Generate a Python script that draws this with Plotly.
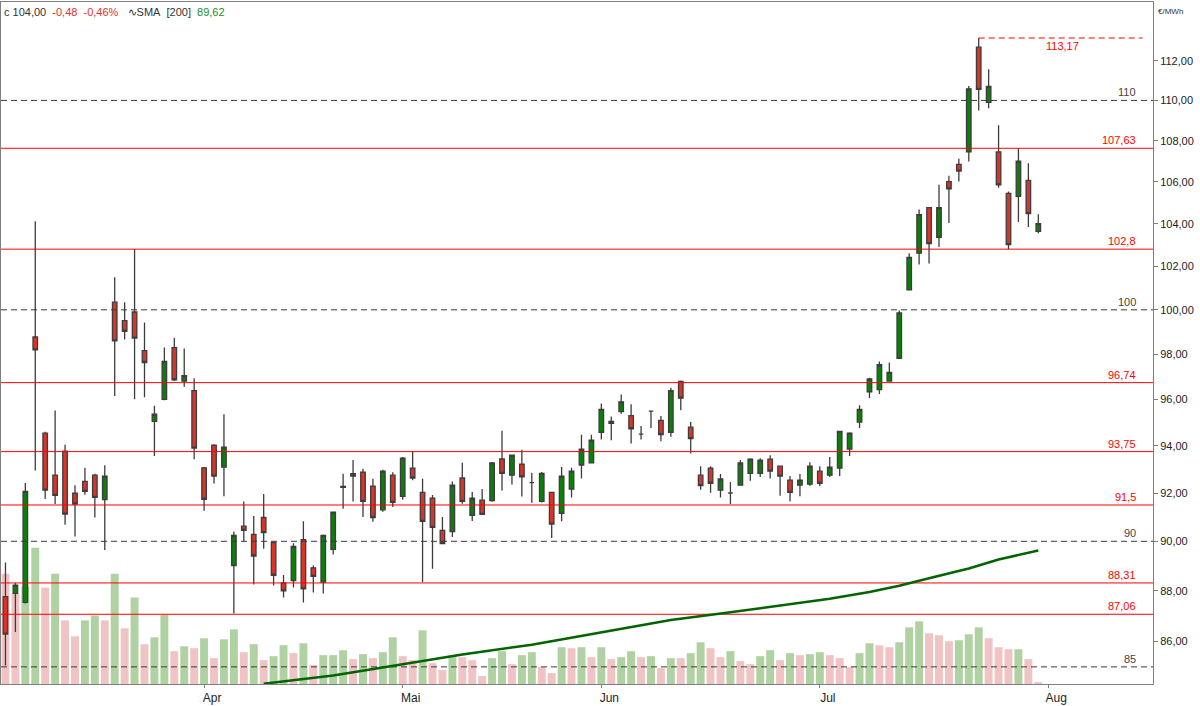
import math
import plotly.graph_objects as go

# daily candles, x = trading day index
opens = [87.76, 87.89, 87.53, 98.77, 94.54, 92.75, 93.77, 91.99, 92.49, 92.75,
         91.72, 100.35, 99.51, 99.90, 98.16, 95.05, 96.01, 98.29, 96.81, 96.39,
         93.06, 94.03, 93.09, 89.01, 90.62, 90.28, 90.98, 89.95, 88.31, 88.40,
         90.07, 88.92, 88.34, 89.67, 92.28, 92.71, 92.88, 92.29, 91.30, 92.75,
         91.86, 93.05, 92.03, 91.78, 90.45, 90.40, 92.63, 91.07, 91.70, 91.68,
         93.44, 92.75, 93.22, 92.44, 91.65, 92.03, 91.15, 92.16, 93.18, 93.27,
         94.58, 95.05, 95.47, 95.30, 94.50, 95.49, 95.09, 94.58, 96.79, 94.80,
         92.75, 93.05, 92.12, 92.00, 92.33, 92.83, 92.83, 93.43, 93.13, 92.54,
         92.33, 92.37, 92.92, 92.75, 93.05, 93.86, 95.02, 96.34, 96.43, 96.81,
         97.82, 100.91, 102.61, 104.76, 103.35, 106.01, 106.84, 107.45, 112.70, 109.90,
         107.45, 105.44, 105.30, 106.07, 103.64]
highs = [89.14, 88.31, 92.42, 104.11, 94.60, 95.52, 94.04, 92.33, 93.06, 92.81,
         93.17, 101.49, 100.35, 102.81, 99.42, 95.73, 98.30, 98.74, 98.26, 96.93,
         93.10, 94.06, 95.36, 90.40, 91.65, 91.04, 91.96, 89.99, 88.63, 89.92,
         90.83, 89.01, 90.28, 91.20, 92.81, 93.39, 93.02, 92.60, 92.98, 92.87,
         93.52, 93.76, 92.60, 91.92, 91.00, 92.48, 93.28, 92.04, 92.17, 93.31,
         94.64, 93.60, 93.83, 92.85, 92.88, 92.03, 93.10, 93.06, 94.47, 94.47,
         95.83, 95.26, 96.22, 95.79, 94.85, 95.49, 95.28, 96.52, 96.83, 95.02,
         93.13, 93.13, 92.80, 92.46, 93.39, 93.47, 93.47, 93.60, 93.13, 92.71,
         92.80, 93.30, 93.13, 93.52, 94.62, 94.58, 95.75, 96.96, 97.68, 97.63,
         99.97, 102.61, 104.67, 104.76, 105.86, 106.29, 107.12, 110.72, 113.17, 111.57,
         108.77, 105.53, 107.63, 106.90, 104.45]
lows = [85.05, 86.36, 87.49, 92.95, 91.75, 91.54, 90.68, 90.20, 91.93, 90.98,
        89.64, 96.15, 98.66, 96.01, 96.10, 93.56, 95.97, 96.81, 96.56, 93.42,
        91.26, 92.40, 91.86, 87.09, 89.99, 88.25, 89.70, 88.21, 87.73, 88.13,
        87.53, 87.93, 87.89, 89.46, 91.34, 91.65, 91.00, 90.80, 91.22, 91.42,
        91.72, 92.54, 88.34, 88.88, 89.91, 90.18, 91.55, 90.84, 91.11, 91.63,
        92.10, 92.36, 91.85, 91.59, 91.60, 90.14, 90.82, 91.81, 92.61, 93.27,
        94.27, 94.24, 95.38, 94.10, 94.27, 94.76, 94.19, 94.39, 95.53, 93.67,
        92.14, 92.01, 91.81, 91.54, 92.33, 92.52, 92.67, 92.61, 91.89, 91.65,
        91.86, 92.29, 92.29, 92.67, 92.71, 93.56, 94.76, 96.07, 96.24, 96.81,
        97.82, 100.91, 102.08, 102.13, 102.90, 104.03, 106.01, 106.99, 109.50, 109.61,
        105.71, 102.80, 104.08, 103.84, 103.55]
closes = [86.28, 88.22, 92.07, 98.19, 92.12, 91.90, 91.12, 91.54, 92.07, 91.82,
          92.71, 98.60, 99.03, 98.72, 97.63, 95.36, 97.68, 96.86, 97.05, 93.90,
          91.74, 92.71, 93.94, 90.24, 90.45, 89.40, 90.36, 88.62, 87.99, 89.79,
          88.07, 88.58, 90.24, 91.20, 92.24, 92.81, 91.65, 90.98, 92.92, 91.61,
          93.47, 92.63, 90.82, 90.57, 89.91, 92.33, 91.65, 91.78, 91.11, 93.27,
          92.83, 93.60, 92.68, 92.44, 92.83, 90.71, 92.71, 92.92, 93.86, 94.24,
          95.57, 94.96, 95.90, 94.73, 94.50, 95.49, 94.48, 96.39, 96.06, 94.31,
          92.31, 92.41, 92.59, 92.00, 93.27, 93.43, 93.39, 92.92, 92.71, 92.03,
          92.54, 93.13, 92.41, 93.09, 94.62, 94.54, 95.57, 96.90, 97.53, 97.19,
          99.86, 102.42, 104.43, 103.06, 104.76, 105.66, 106.52, 110.58, 110.55, 110.70,
          105.85, 103.01, 107.00, 104.48, 104.00]

volumes = [111, 91, 98, 137, 97, 111, 64, 48, 64, 69,
           64, 111, 56, 87, 40, 47, 70, 33, 38, 36,
           46, 26, 45, 55, 32, 40, 24, 28, 39, 31,
           41, 19, 29, 29, 34, 25, 30, 26, 32, 47,
           28, 24, 54, 21, 14, 29, 27, 24, 8, 26,
           33, 20, 29, 32, 17, 11, 37, 36, 37, 27,
           37, 25, 27, 33, 27, 28, 16, 26, 26, 31,
           42, 36, 27, 33, 23, 20, 28, 34, 24, 31,
           29, 30, 32, 29, 26, 17, 31, 41, 39, 37,
           42, 57, 63, 51, 49, 43, 44, 50, 57, 46,
           37, 35, 35, 25, 2]
volume_up = [0, 0, 1, 1, 0, 1, 0, 0, 1, 1,
             0, 1, 0, 1, 0, 1, 1, 0, 1, 0,
             1, 0, 1, 1, 0, 1, 0, 1, 1, 0,
             1, 0, 1, 1, 1, 0, 1, 0, 1, 1,
             0, 0, 1, 0, 0, 1, 0, 0, 0, 1,
             1, 0, 1, 1, 0, 0, 1, 0, 1, 0,
             1, 0, 1, 1, 0, 1, 0, 1, 0, 1,
             1, 0, 0, 1, 0, 0, 1, 1, 0, 1,
             0, 1, 1, 0, 0, 0, 1, 1, 0, 0,
             1, 1, 1, 0, 0, 0, 1, 1, 1, 0,
             0, 0, 1, 0, 0]

sma_days = [26, 33, 40, 46, 53, 60, 67, 73, 80, 83, 87, 90, 93, 97, 100, 104]
sma_values = [84.35, 84.67, 85.10, 85.48, 85.86, 86.33, 86.83, 87.14, 87.52,
              87.68, 87.95, 88.20, 88.50, 88.89, 89.26, 89.62]

red_levels = [107.63, 102.8, 96.74, 93.75, 91.5, 88.31, 87.06]
round_levels = [110, 100, 90, 85]
peak_value = 113.17
peak_day = 98

month_days = [20, 40, 60, 82, 105]
month_names = ["Apr", "Mai", "Jun", "Jul", "Aug"]
price_ticks = [86, 88, 90, 92, 94, 96, 98, 100, 102, 104, 106, 108, 110, 112]

FONT = "Liberation Sans, Arial, sans-serif"
RED = "#ff0000"
GRAY = "#3a3a3a"
X0, X1 = -0.45, 115.55

days = list(range(len(closes)))

fig = go.Figure()

fig.add_trace(go.Bar(
    x=days, y=volumes, width=0.8, yaxis="y",
    marker=dict(color=["#b0d2a2" if u else "#f0c4c4" for u in volume_up], line=dict(width=0)),
    hoverinfo="skip", showlegend=False,
))

fig.add_trace(go.Candlestick(
    x=days, open=opens, high=highs, low=lows, close=closes, yaxis="y2",
    increasing=dict(fillcolor="#0a7f0a", line=dict(color="#3d3d3d", width=1.3)),
    decreasing=dict(fillcolor="#dc3328", line=dict(color="#3d3d3d", width=1.3)),
    whiskerwidth=0, showlegend=False,
))

for v in red_levels:
    fig.add_trace(go.Scatter(x=[X0, X1], y=[v, v], yaxis="y2", mode="lines",
                             line=dict(color=RED, width=1), hoverinfo="skip", showlegend=False))
for v in round_levels:
    fig.add_trace(go.Scatter(x=[X0, X1], y=[v, v], yaxis="y2", mode="lines",
                             line=dict(color=GRAY, width=1, dash="6px,4px"),
                             hoverinfo="skip", showlegend=False))
fig.add_trace(go.Scatter(x=[peak_day, 114.5], y=[peak_value, peak_value], yaxis="y2", mode="lines",
                         line=dict(color=RED, width=1, dash="6px,4px"),
                         hoverinfo="skip", showlegend=False))

fig.add_trace(go.Scatter(x=sma_days, y=sma_values, yaxis="y2", mode="lines",
                         line=dict(color="#006400", width=2.5), showlegend=False))

annotations = []
for v in red_levels:
    annotations.append(dict(x=114, y=math.log10(v), xref="x", yref="y2", xanchor="right",
                            yanchor="bottom", showarrow=False, text=str(v).replace(".", ","),
                            font=dict(family=FONT, size=11, color=RED)))
for v in round_levels:
    annotations.append(dict(x=114, y=math.log10(v), xref="x", yref="y2", xanchor="right",
                            yanchor="bottom", showarrow=False, text=str(v),
                            font=dict(family=FONT, size=11, color="#444444")))
annotations.append(dict(x=106.4, y=math.log10(peak_value), xref="x", yref="y2", xanchor="center",
                        yanchor="top", showarrow=False, text=str(peak_value).replace(".", ","),
                        font=dict(family=FONT, size=11, color=RED)))
annotations.append(dict(x=1, y=1, xref="paper", yref="paper", xanchor="left", yanchor="top",
                        xshift=3, yshift=-3, showarrow=False, text="€/MWh",
                        font=dict(family=FONT, size=8, color="#333333")))
nb = "\u00a0"
legend_text = ("c 104,00" + nb * 2 +
               "<span style='color:#e8302a'>-0,48" + nb * 2 + "-0,46%</span>" + nb * 3 +
               "∿SMA" + nb * 2 + "[200]" + nb * 2 +
               "<span style='color:#1f8a1f'>89,62</span>")
annotations.append(dict(x=0, y=1, xref="paper", yref="paper", xanchor="left", yanchor="top",
                        xshift=1, yshift=-2, showarrow=False, text=legend_text,
                        font=dict(family=FONT, size=11, color="#333333")))

fig.update_layout(
    width=1200, height=706,
    margin=dict(l=1, r=47, t=1, b=19),
    paper_bgcolor="white", plot_bgcolor="white",
    boxgap=0.35,
    showlegend=False,
    annotations=annotations,
    xaxis=dict(
        range=[X0, X1], rangeslider=dict(visible=False),
        showgrid=False, zeroline=False,
        showline=True, mirror=True, linecolor="#808080", linewidth=1,
        ticks="outside", ticklen=3, tickcolor="#808080",
        tickvals=month_days, ticktext=month_names, ticklabelshift=8,
        tickfont=dict(family=FONT, size=12, color="#222222"),
    ),
    yaxis=dict(
        range=[0, 686], showgrid=False, zeroline=False,
        showline=True, linecolor="#808080", linewidth=1,
        showticklabels=False, ticks="", fixedrange=True,
    ),
    yaxis2=dict(
        type="log", overlaying="y", side="right",
        range=[math.log10(84.34), math.log10(115.04)],
        showgrid=False, zeroline=False,
        showline=True, linecolor="#808080", linewidth=1,
        ticks="outside", ticklen=4, tickcolor="#808080",
        tickvals=price_ticks, ticktext=[f"{t:.2f}".replace(".", ",") for t in price_ticks],
        tickfont=dict(family=FONT, size=11, color="#222222"),
    ),
)

# the page body has a default 8px margin; drop it so the figure sits at the window corner
fig.write_html("out.html", config={"displayModeBar": False},
               post_script="document.body.style.margin = '0px';")
